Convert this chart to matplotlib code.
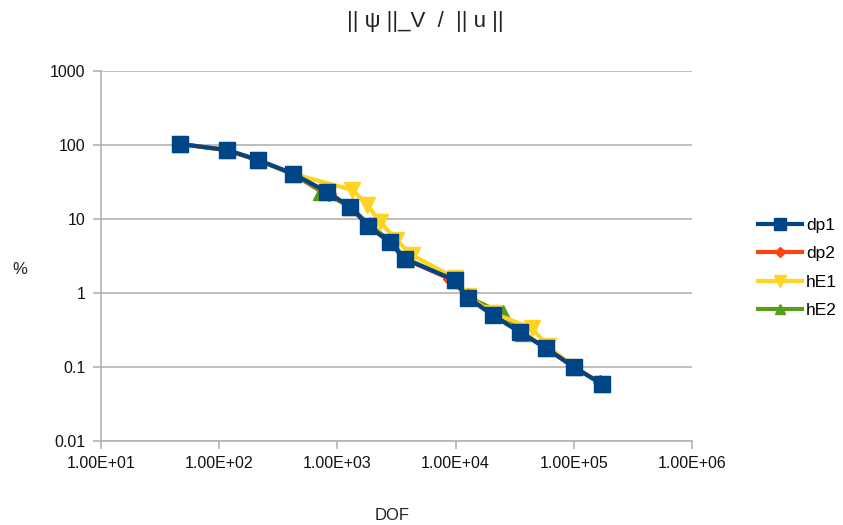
import matplotlib
matplotlib.use("Agg")
import matplotlib.pyplot as plt
from matplotlib.ticker import FixedLocator, FixedFormatter, NullLocator

plt.rcParams['font.family'] = ['Liberation Sans', 'DejaVu Sans']

# Data
dp1_x = [47, 117, 214, 424, 822, 1290, 1830, 2760, 3700, 9820, 12700, 20600, 34800, 57900, 100000, 172000]
dp1_y = [103, 85.5, 62.7, 40.6, 23.2, 14.5, 8.04, 4.88, 2.88, 1.50, 0.855, 0.504, 0.297, 0.181, 0.100, 0.059]

dp2_x = [47, 117, 214, 424, 850, 1290, 1830, 2760, 3700, 8900, 12700, 20600, 34800, 57900, 100000, 165000]
dp2_y = [103, 85, 62, 41, 21.5, 14.5, 8.0, 4.9, 2.9, 1.55, 0.9, 0.5, 0.3, 0.18, 0.1, 0.062]

hE1_x = [47, 117, 214, 424, 1340, 1795, 2310, 3160, 4240, 9820, 12700, 20600, 44000, 60300, 100000, 172000]
hE1_y = [103, 85.5, 62.7, 40.6, 24.7, 15.5, 9.1, 5.2, 3.27, 1.6, 0.91, 0.537, 0.336, 0.192, 0.1, 0.059]

hE2_x = [47, 117, 214, 424, 731, 1290, 1900, 2800, 3800, 9900, 13000, 25000, 37000, 58000, 100000, 172000]
hE2_y = [103, 85, 62, 40, 23.5, 14.5, 8.2, 5.0, 2.9, 1.5, 0.87, 0.53, 0.29, 0.18, 0.1, 0.059]

x_ticks = [1e1, 1e2, 1e3, 1e4, 1e5, 1e6]
x_labels = ["1.00E+01", "1.00E+02", "1.00E+03", "1.00E+04", "1.00E+05", "1.00E+06"]
y_ticks = [0.01, 0.1, 1, 10, 100, 1000]
y_labels = ["0.01", "0.1", "1", "10", "100", "1000"]

fig = plt.figure(figsize=(8.43, 5.25), dpi=100)
ax = fig.add_axes([101/843, 1 - 441/525, (692 - 101)/843, (441 - 71)/525])

lw = 3.0
ax.plot(hE2_x, hE2_y, color='#579d1c', lw=lw, marker='^', ms=11, label='hE2', zorder=3)
ax.plot(hE1_x, hE1_y, color='#ffd320', lw=lw, marker='v', ms=11.5, label='hE1', zorder=4)
ax.plot(dp2_x, dp2_y, color='#ff420e', lw=lw, marker='D', ms=7.5, label='dp2', zorder=5)
ax.plot(dp1_x, dp1_y, color='#004586', lw=lw, marker='s', ms=11.5, label='dp1', zorder=6)

ax.set_xscale('log')
ax.set_yscale('log')
ax.set_xlim(1e1, 1e6)
ax.set_ylim(0.01, 1000)

ax.xaxis.set_major_locator(FixedLocator(x_ticks))
ax.xaxis.set_major_formatter(FixedFormatter(x_labels))
ax.xaxis.set_minor_locator(NullLocator())
ax.yaxis.set_major_locator(FixedLocator(y_ticks))
ax.yaxis.set_major_formatter(FixedFormatter(y_labels))
ax.yaxis.set_minor_locator(NullLocator())

ax.grid(axis='y', color='#b3b3b3', lw=1.2)
ax.set_axisbelow(True)
for s in ['top', 'right']:
    ax.spines[s].set_visible(False)
for s in ['left', 'bottom']:
    ax.spines[s].set_color('#b3b3b3')
    ax.spines[s].set_linewidth(1.2)
ax.tick_params(axis='both', direction='out', length=6, width=1.2, color='#b3b3b3',
               labelsize=11.5, labelcolor='#111111', pad=5)

fig.text(392/843, 1 - 515/525, 'DOF', ha='center', va='center', fontsize=12, color='#222222')
fig.text(20/843, 1 - 270/525, '%', ha='center', va='center', fontsize=12, color='#222222')
fig.text(425/843, 1 - 22/525, '|| ψ ||_V  /  || u ||', ha='center', va='center', fontsize=16, color='#222222')

handles, labels = ax.get_legend_handles_labels()
order = [3, 2, 1, 0]
leg = fig.legend([handles[i] for i in order], [labels[i] for i in order],
                 loc='center left', bbox_to_anchor=(755/843, 1 - 268/525),
                 frameon=False, fontsize=12.5, handlelength=2.5, labelspacing=0.75,
                 handletextpad=0.25, markerscale=0.7, borderpad=0.2, borderaxespad=0)

fig.savefig('out.png', dpi=100)
